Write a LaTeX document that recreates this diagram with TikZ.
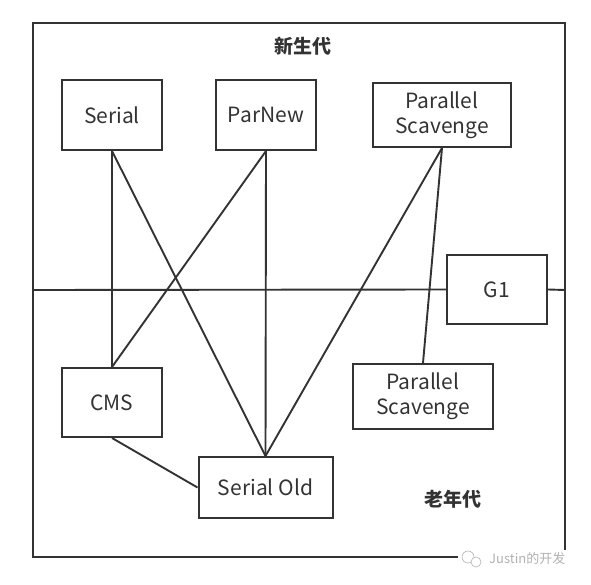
\documentclass[tikz,border=0pt]{standalone}
\usepackage{fontspec}
\setmainfont{Noto Sans CJK SC}
\usepackage{tikz}
\definecolor{ink}{HTML}{333333}
\tikzstyle{gcbox} = [draw=ink,line width=2pt,text=ink,align=center,inner sep=0pt,font=\fontsize{21}{25}\selectfont]
\tikzstyle{link} = [draw=ink,line width=1.9pt]
\tikzstyle{gen} = [text=ink,font=\fontsize{19}{20}\selectfont\bfseries]

\begin{document}
\begin{tikzpicture}[x=1pt,y=-1pt]
	\useasboundingbox (0,0) rectangle (591,585);
	% frame
	\draw[ink,line width=2pt] (33,23) rectangle (565,557);
	\coordinate (left) at (33,290);
	\coordinate (right) at (565,290);

	\node[gen] (young) at (303,46) {新生代};
	\node[gen] (old) at (453,499) {老年代};

	\node[gcbox,minimum width=100pt,minimum height=70pt] (serial) at (112,115) {Serial};
	\node[gcbox,minimum width=100pt,minimum height=70pt] (parnew) at (266,115) {ParNew};
	\node[gcbox,minimum width=138pt,minimum height=64pt] (ps) at (442,115) {Parallel\\Scavenge};
	\node[gcbox,minimum width=100pt,minimum height=69pt] (g1) at (497,289.5) {G1};
	\node[gcbox,minimum width=100pt,minimum height=69pt] (cms) at (112,402.5) {CMS};
	\node[gcbox,minimum width=140pt,minimum height=65pt] (psold) at (423,396.5) {Parallel\\Scavenge};
	\node[gcbox,minimum width=134pt,minimum height=61pt] (serialold) at (265.5,487.5) {Serial Old};

	\draw[link] (left) -- (g1.west);
	\draw[link] (g1.east) -- (right);
	\draw[link] (serial.south) -- (cms.north);
	\draw[link] (serial.south) -- (serialold.north);
	\draw[link] (parnew.south) -- (cms.north);
	\draw[link] (parnew.south) -- (serialold.north);
	\draw[link] (ps.south) -- (serialold.north);
	\draw[link] (ps.south) -- (psold.north);
	\draw[link] (cms.south) -- (serialold.west);

	% watermark
	\fill[white] (458,550) rectangle (576,570);
	\draw[gray!60,line width=0.6pt] (468,557) circle (6pt);
	\draw[gray!60,line width=0.6pt,fill=white] (476,562) circle (5pt);
	\node[text=gray!60,font=\fontsize{13}{14}\selectfont,anchor=west,inner sep=0pt] (mark) at (489,559) {Justin的开发};
\end{tikzpicture}
\end{document}
